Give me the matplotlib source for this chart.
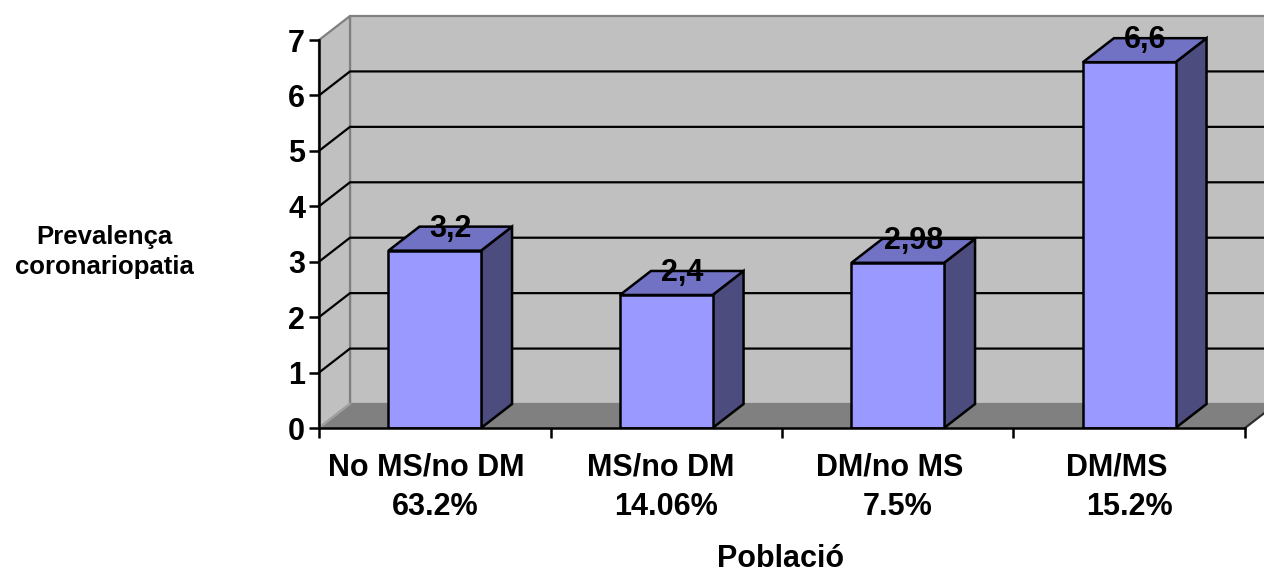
import matplotlib
matplotlib.use("Agg")
import matplotlib.pyplot as plt
from matplotlib.patches import Polygon

# ---- data ----
categories = ["No MS/no DM", "MS/no DM", "DM/no MS", "DM/MS"]
shares = ["63.2%", "14.06%", "7.5%", "15.2%"]
prevalence = [3.2, 2.4, 2.98, 6.6]
value_labels = ["3,2", "2,4", "2,98", "6,6"]
y_ticks = [0, 1, 2, 3, 4, 5, 6, 7]

plt.rcParams["font.family"] = ["Liberation Sans", "DejaVu Sans"]
plt.rcParams["font.weight"] = "bold"

W, H, DPI = 1264, 574, 100
fig = plt.figure(figsize=(W / DPI, H / DPI), dpi=DPI)

# pixel geometry of the plotting box
left_px, right_px = 319, 1264
floor_px, top_px = 428, 8
cat_px = 231.5                     # width of one category slot
unit_px = (428 - 40) / 7.0         # height of one value unit
ax = fig.add_axes([left_px / W, (H - floor_px) / H,
                   (right_px - left_px) / W, (floor_px - top_px) / H])
xmax = (right_px - left_px) / cat_px
ymax = (floor_px - top_px) / unit_px
ax.set_xlim(0, xmax)
ax.set_ylim(0, ymax)
ax.set_facecolor("none")

# depth of the 3-D box, in data units
DX = 31 / cat_px
DY = 24 / unit_px
YTOP = 7
NCAT = len(categories)

wall = "#C0C0C0"
floor_c = "#808080"
edge_gray = "#808080"

# back wall, side wall and floor
ax.add_patch(Polygon([(DX, DY), (xmax + 1, DY), (xmax + 1, YTOP + DY), (DX, YTOP + DY)],
                     closed=True, facecolor=wall, edgecolor=edge_gray, lw=1.6,
                     clip_on=False, zorder=1))
ax.add_patch(Polygon([(0, 0), (DX, DY), (DX, YTOP + DY), (0, YTOP)],
                     closed=True, facecolor=wall, edgecolor=edge_gray, lw=1.6,
                     clip_on=False, zorder=1))
ax.add_patch(Polygon([(0, 0), (NCAT, 0), (NCAT + DX, DY), (DX, DY)],
                     closed=True, facecolor=floor_c, edgecolor="none",
                     clip_on=False, zorder=1.5))
ax.plot([0, DX], [0, DY], color="#A0A0A0", lw=1.5, zorder=1.6, clip_on=False)
ax.plot([NCAT, NCAT + DX], [0, DY], color="#303030", lw=1.6, zorder=1.6, clip_on=False)

# gridlines across side wall and back wall
for v in y_ticks[1:-1]:
    ax.plot([0, DX, xmax + 1], [v, v + DY, v + DY], color="black", lw=1.6,
            zorder=2, clip_on=False, solid_joinstyle="miter")

# 3-D bars
bw = 0.40
front_c, top_c, side_c = "#9999FF", "#7272C4", "#4C4C7E"
for i, v in enumerate(prevalence):
    x0 = i + 0.5 - bw / 2
    x1 = i + 0.5 + bw / 2
    ax.add_patch(Polygon([(x1, 0), (x1 + DX, DY), (x1 + DX, v + DY), (x1, v)],
                         closed=True, facecolor=side_c, edgecolor="black", lw=1.8,
                         zorder=3, joinstyle="miter"))
    ax.add_patch(Polygon([(x0, v), (x1, v), (x1 + DX, v + DY), (x0 + DX, v + DY)],
                         closed=True, facecolor=top_c, edgecolor="black", lw=1.8,
                         zorder=3, joinstyle="miter"))
    ax.add_patch(Polygon([(x0, 0), (x1, 0), (x1, v), (x0, v)],
                         closed=True, facecolor=front_c, edgecolor="black", lw=1.8,
                         zorder=3.1, joinstyle="miter"))
    ax.text(i + 0.5 + DX / 2, v + 0.25, value_labels[i], ha="center", va="baseline",
            fontsize=22, fontweight="bold", zorder=5)

# axes lines and ticks
for s in ("top", "right"):
    ax.spines[s].set_visible(False)
ax.spines["left"].set_bounds(0, YTOP)
ax.spines["bottom"].set_bounds(0, NCAT)
for s in ("left", "bottom"):
    ax.spines[s].set_linewidth(1.8)
    ax.spines[s].set_zorder(4)
ax.set_yticks(y_ticks)
ax.set_yticklabels([str(t) for t in y_ticks], fontsize=22, fontweight="bold")
ax.set_xticks(range(NCAT + 1))
ax.set_xticklabels([])
ax.tick_params(axis="both", direction="out", length=7, width=1.8, color="black")
ax.tick_params(axis="y", pad=3)

# category labels (two lines each)
name_shift = [-9, -6, -8, -13]
for i, (name, share) in enumerate(zip(categories, shares)):
    ax.annotate(name, xy=(i + 0.5, 0), xytext=(name_shift[i] * 0.72, -47 * 0.72),
                textcoords="offset points", ha="center", va="baseline",
                fontsize=22, fontweight="bold", annotation_clip=False)
    ax.annotate(share, xy=(i + 0.5, 0), xytext=(0, -87 * 0.72),
                textcoords="offset points", ha="center", va="baseline",
                fontsize=22, fontweight="bold", annotation_clip=False)

# axis titles
fig.text(104 / W, 1 - 252 / H, "Prevalença\ncoronariopatia", ha="center", va="center",
         fontsize=18.5, fontweight="bold", linespacing=1.35, multialignment="center")
fig.text(781 / W, (H - 567) / H, "Població", ha="center", va="baseline",
         fontsize=22, fontweight="bold")

fig.savefig("out.png", dpi=DPI)
